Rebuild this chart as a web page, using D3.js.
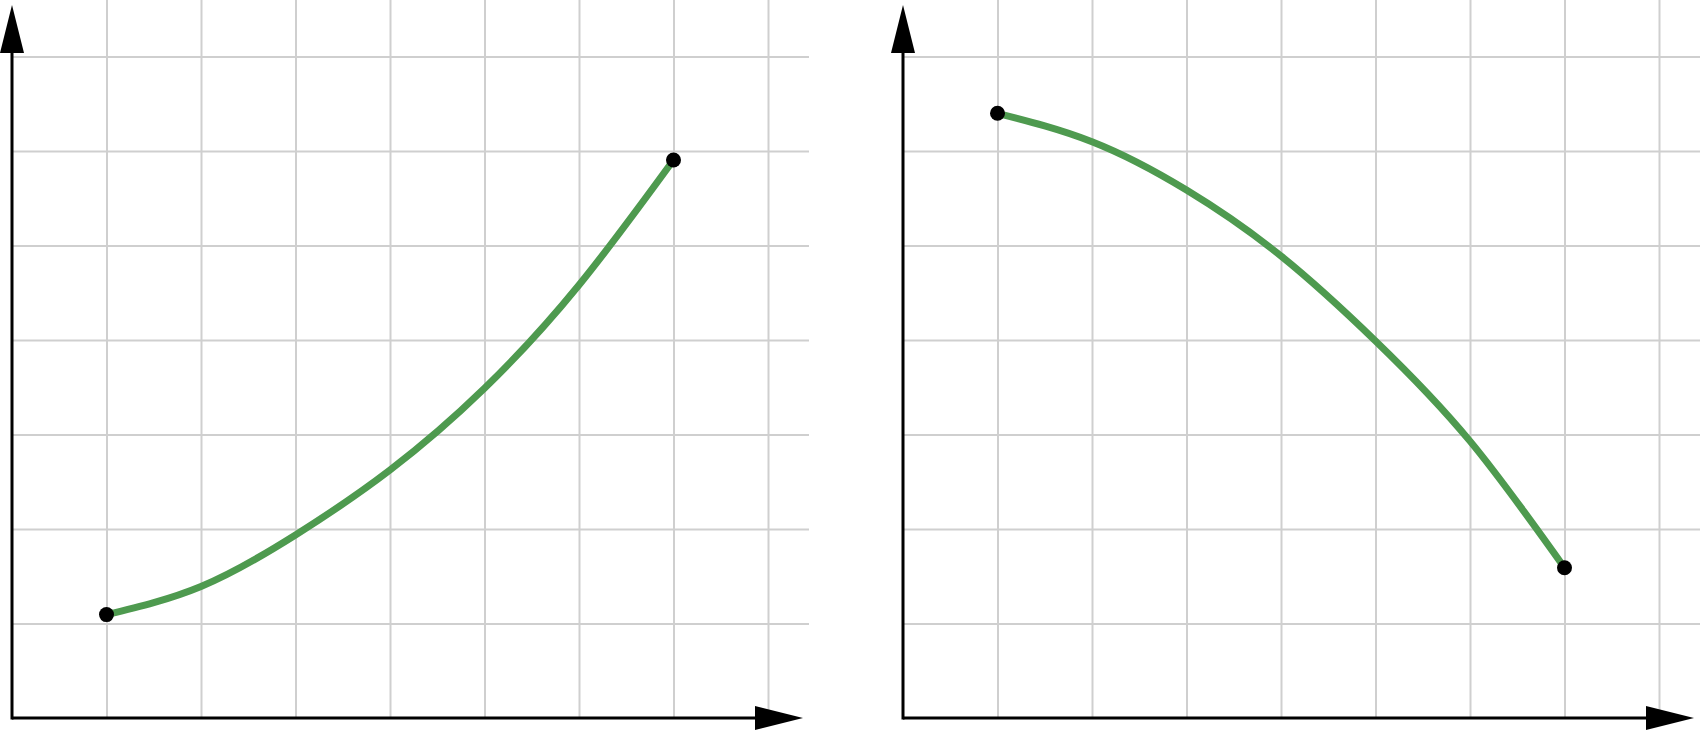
<!DOCTYPE html>
<html>
<head>
<meta charset="utf-8">
<script src="https://cdn.jsdelivr.net/npm/d3@7/dist/d3.min.js"></script>
<style>
  html, body { margin: 0; padding: 0; background: #fff; }
  svg { display: block; }
</style>
</head>
<body>
<svg id="chart" width="1700" height="732"></svg>
<script>
// ---- data ----
const xGridValues = [1, 2, 3, 4, 5, 6, 7, 8];
const yGridValues = [1, 2, 3, 4, 5, 6, 7];
const xValues = [1, 2, 3, 4, 5, 6, 7];
const risingValues = [1.094, 1.392, 1.937, 2.624, 3.489, 4.582, 5.905];
const fallingValues = [6.399, 6.098, 5.587, 4.889, 3.990, 2.930, 1.590];
const panels = [risingValues, fallingValues];

// ---- layout ----
const unit = 94.5;
const axisY = 718;
const panelLeft = [12, 903];
const panelWidth = 797;
const xMax = panelWidth / unit;
const yMax = axisY / unit;

const svg = d3.select("#chart");

panels.forEach((vals, i) => {
  const x0 = panelLeft[i];
  const x = d3.scaleLinear().domain([0, xMax]).range([x0, x0 + panelWidth]);
  const y = d3.scaleLinear().domain([0, yMax]).range([axisY, 0]);
  const g = svg.append("g");

  // vertical grid
  g.append("g")
    .attr("transform", `translate(0,${axisY})`)
    .call(d3.axisBottom(x).tickValues(xGridValues).tickSize(-axisY).tickFormat(""))
    .call(s => s.select(".domain").remove())
    .call(s => s.selectAll(".tick line").attr("stroke", "#cfcfcf").attr("stroke-width", 2));

  // horizontal grid
  g.append("g")
    .attr("transform", `translate(${x0},0)`)
    .call(d3.axisLeft(y).tickValues(yGridValues).tickSize(-panelWidth).tickFormat(""))
    .call(s => s.select(".domain").remove())
    .call(s => s.selectAll(".tick line").attr("stroke", "#cfcfcf").attr("stroke-width", 2));

  // axes lines
  const arrowLen = 48, arrowHalf = 12;
  const xTip = x0 + 791;
  const yTip = 5;
  g.append("line")
    .attr("x1", x(0)).attr("y1", y(0)).attr("x2", xTip - 10).attr("y2", y(0))
    .attr("stroke", "#000").attr("stroke-width", 3);
  g.append("line")
    .attr("x1", x(0)).attr("y1", y(0) + 1.5).attr("x2", x(0)).attr("y2", yTip + 10)
    .attr("stroke", "#000").attr("stroke-width", 3);
  // arrowheads
  g.append("polygon")
    .attr("points", [[xTip, y(0)], [xTip - arrowLen, y(0) - arrowHalf], [xTip - arrowLen, y(0) + arrowHalf]].map(p => p.join(",")).join(" "))
    .attr("fill", "#000");
  g.append("polygon")
    .attr("points", [[x(0), yTip], [x(0) - arrowHalf, yTip + arrowLen], [x(0) + arrowHalf, yTip + arrowLen]].map(p => p.join(",")).join(" "))
    .attr("fill", "#000");

  // curve
  const pts = xValues.map((xv, j) => [xv, vals[j]]);
  const line = d3.line().x(d => x(d[0])).y(d => y(d[1])).curve(d3.curveNatural);
  g.append("path")
    .attr("d", line(pts))
    .attr("fill", "none")
    .attr("stroke", "#4e9a4f")
    .attr("stroke-width", 7);

  // endpoints
  const ends = [pts[0], pts[pts.length - 1]];
  g.selectAll("circle.end").data(ends).join("circle")
    .attr("class", "end")
    .attr("cx", d => x(d[0])).attr("cy", d => y(d[1]))
    .attr("r", 7.5).attr("fill", "#000");
});
</script>
</body>
</html>
